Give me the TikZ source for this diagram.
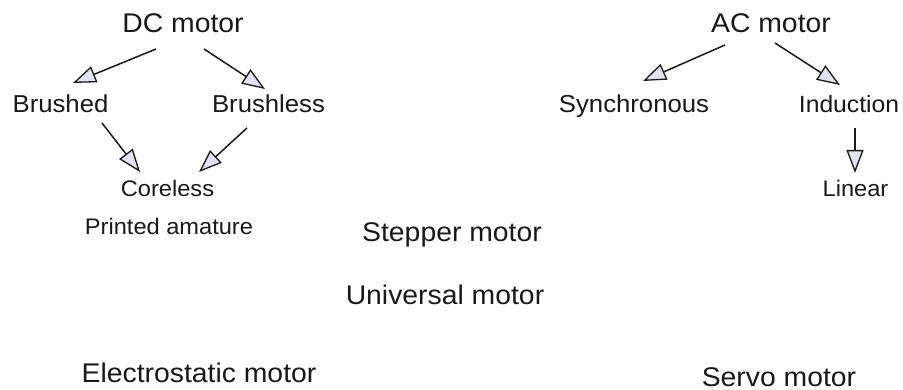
\documentclass[tikz,border=0pt]{standalone}
\usepackage{fontspec}
\setmainfont{Liberation Sans}[FakeStretch=1.05]
\usetikzlibrary{arrows.meta}
\definecolor{headfill}{RGB}{226,226,240}
\definecolor{ink}{RGB}{25,25,25}
\tikzset{
  lbl/.style={anchor=base, inner sep=0pt, text=ink},
  big/.style={lbl, font=\fontsize{27}{32}\selectfont},
  mid/.style={lbl, font=\fontsize{24.5}{29}\selectfont},
  small/.style={lbl, font=\fontsize{22.5}{27}\selectfont},
  arr/.style={draw=ink, line width=1.5pt,
    -{Triangle[open, length=23pt, width=17pt, fill=headfill, line width=1.3pt]}},
}
\begin{document}
\begin{tikzpicture}[x=1pt, y=-1pt]
  \useasboundingbox[fill=white] (0,0) rectangle (903,390);

  % DC motor family
  \node[big]   (dc) at (183,33)   {DC motor};
  \node[mid]   (br) at (60.5,113) {Brushed};
  \node[mid]   (bl) at (268.5,113){Brushless};
  \node[small] (co) at (167.5,197){Coreless};
  \node[small] (pa) at (169,235)  {Printed amature};

  % AC motor family
  \node[big]   (ac) at (771,33)   {AC motor};
  \node[mid]   (sy) at (634,113)  {Synchronous};
  \node[mid, font=\fontsize{23.5}{28}\selectfont] (in) at (849,113) {Induction};
  \node[small] (li) at (855.5,197){Linear};

  % Stand-alone motor types
  \node[big] (st) at (452,242) {Stepper motor};
  \node[big] (un) at (445,305) {Universal motor};
  \node[big] (es) at (199,382) {Electrostatic motor};
  \node[big] (sv) at (779,386) {Servo motor};

  % Connectors
  \draw[arr] ([shift={(-27,16)}]dc.base)   -- ([shift={(12.5,-30)}]br.base);
  \draw[arr] ([shift={(21,16)}]dc.base)    -- ([shift={(-3.5,-24)}]bl.base);
  \draw[arr] ([shift={(41.5,10)}]br.base)  -- ([shift={(-27.5,-25)}]co.base);
  \draw[arr] ([shift={(-21.5,15)}]bl.base) -- ([shift={(31.5,-25)}]co.base);
  \draw[arr] ([shift={(-46,12)}]ac.base)   -- ([shift={(9,-32)}]sy.base);
  \draw[arr] ([shift={(4,10)}]ac.base)     -- ([shift={(-9,-28)}]in.base);
  \draw[arr] ([shift={(6,15)}]in.base)     -- ([shift={(6,-24)}]in.base |- li.base);
\end{tikzpicture}
\end{document}
